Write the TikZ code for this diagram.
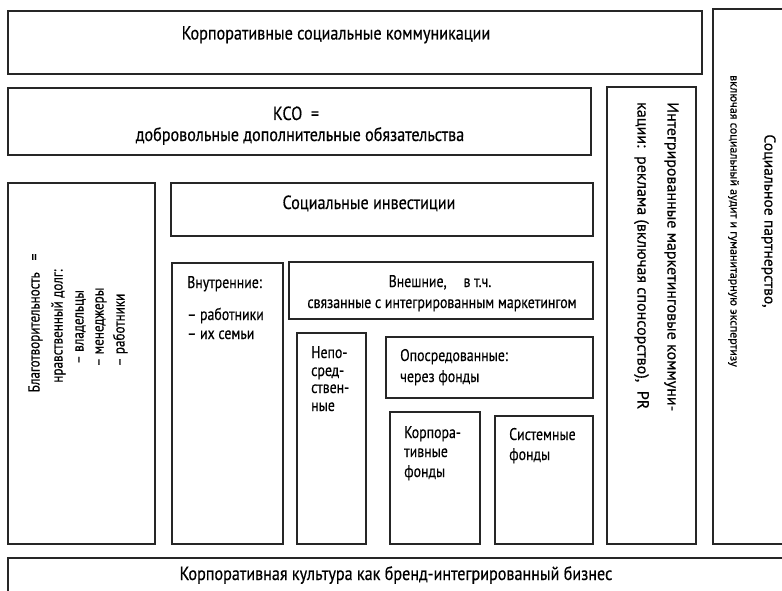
\documentclass[tikz,border=0pt]{standalone}
\usepackage{fontspec}
\setmainfont{PT Sans}[FakeStretch=0.82,FakeBold=0.4]
\newfontfamily\condbig{PT Sans}[FakeStretch=0.85,FakeBold=0.4]
\newfontfamily\widefont{PT Sans}[FakeBold=0.3]
\usetikzlibrary{fit}
\begin{document}
\begin{tikzpicture}[x=1pt,y=-1pt,
  box/.style={draw=black!85, line width=1.15pt, inner sep=0pt},
  lbl/.style={inner sep=0pt, text=black, font=\condbig\fontsize{19}{22}\selectfont},
  sml/.style={inner sep=0pt, text=black, font=\fontsize{16.9}{18}\selectfont},
  rtx/.style={inner sep=0pt, text=black, font=\fontsize{16}{18}\selectfont},
  wtx/.style={inner sep=0pt, text=black, font=\widefont\fontsize{16}{18}\selectfont},
]
\fill[white] (0,0) rectangle (782,591);
\clip (0,0) rectangle (782,591);
% boxes
\node[box, fit={(8,11) (702,74)}] (top) {};
\node[box, fit={(8,88) (591,155)}] (kso) {};
\node[box, fit={(713,9) (800,544)}] (part) {};
\node[box, fit={(607,87) (696,544)}] (imc) {};
\node[box, fit={(8,183) (155,544)}] (blag) {};
\node[box, fit={(171,183) (593,236)}] (inv) {};
\node[box, fit={(172,263) (283,544)}] (vnut) {};
\node[box, fit={(289,262) (593,319)}] (vnesh) {};
\node[box, fit={(297,333) (366,544)}] (nepo) {};
\node[box, fit={(386,337) (593,398)}] (opos) {};
\node[box, fit={(390,412) (480,544)}] (korpf) {};
\node[box, fit={(495,416) (593,544)}] (sistf) {};
\node[box, fit={(8,558) (800,610)}] (kult) {};
% texts
\node[lbl, anchor=base] (ttop) at (336,39.5) {Корпоративные социальные коммуникации};
\node[lbl, anchor=base] (tkso1) at (296,120) {КСО\ \ =};
\node[lbl, anchor=base] (tkso2) at (300,141) {добровольные дополнительные обязательства};
\node[lbl, anchor=base] (tinv) at (369,209) {Социальные инвестиции};
\node[sml, anchor=base west] (tv1) at (187,288) {Внутренние:};
\node[sml, anchor=base west] (tv2) at (187,320) {– работники};
\node[sml, anchor=base west] (tv3) at (187,339) {– их семьи};
\node[sml, anchor=base] (tn1) at (440,287) {Внешние,\quad в т.ч.};
\node[sml, anchor=base] (tn2) at (442,308) {связанные с интегрированным маркетингом};
\node[sml, anchor=base west] (tp1) at (311,358) {Непо-};
\node[sml, anchor=base west] (tp2) at (311,376) {сред-};
\node[sml, anchor=base west] (tp3) at (311,393) {ствен-};
\node[sml, anchor=base west] (tp4) at (311,411) {ные};
\node[sml, anchor=base west] (to1) at (400,361) {Опосредованные:};
\node[sml, anchor=base west] (to2) at (400,382) {через фонды};
\node[sml, anchor=base west] (tk1) at (404,438) {Корпора-};
\node[sml, anchor=base west] (tk2) at (404,457) {тивные};
\node[sml, anchor=base west] (tk3) at (404,477) {фонды};
\node[sml, anchor=base west] (ts1) at (509,440) {Системные};
\node[sml, anchor=base west] (ts2) at (509,460) {фонды};
\node[lbl, anchor=base] (tkult) at (396,580) {Корпоративная культура как бренд-интегрированный бизнес};
% rotated: charity
\node[rtx, rotate=90, anchor=mid] (tb1) at (37,323) {Благотворительность\hspace{12pt}=};
\node[rtx, rotate=90, anchor=mid] (tb2) at (60,326) {нравственный долг:};
\node[rtx, rotate=90, anchor=mid] (tb3) at (81,327) {– владельцы};
\node[rtx, rotate=90, anchor=mid] (tb4) at (101,327) {– менеджеры};
\node[rtx, rotate=90, anchor=mid] (tb5) at (122,330) {– работники};
% rotated: integrated marketing
\node[wtx, rotate=-90, anchor=mid west] (ti1) at (670,102) {Интегрированные маркетинговые коммуни-};
\node[wtx, rotate=-90, anchor=mid west] (ti2) at (640,102) {кации:\ \ реклама (включая спонсорство),\ \ PR};
% rotated: partnership
\node[wtx, rotate=-90, anchor=mid, font=\widefont\fontsize{15.6}{18}\selectfont] (tpa1) at (767,221) {Социальное партнерство,};
\node[wtx, rotate=-90, anchor=mid, font=\widefont\fontsize{12}{14}\selectfont] (tpa2) at (733,221) {включая социальный аудит и гуманитарную экспертизу};
\end{tikzpicture}
\end{document}
